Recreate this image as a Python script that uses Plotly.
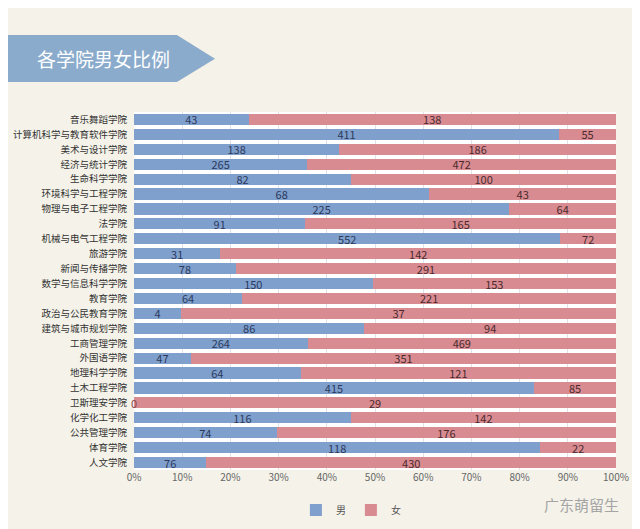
import plotly.graph_objects as go

# data, top to bottom as in the picture
colleges = [
    "音乐舞蹈学院", "计算机科学与教育软件学院", "美术与设计学院", "经济与统计学院",
    "生命科学学院", "环境科学与工程学院", "物理与电子工程学院", "法学院",
    "机械与电气工程学院", "旅游学院", "新闻与传播学院", "数学与信息科学学院",
    "教育学院", "政治与公民教育学院", "建筑与城市规划学院", "工商管理学院",
    "外国语学院", "地理科学学院", "土木工程学院", "卫斯理安学院",
    "化学化工学院", "公共管理学院", "体育学院", "人文学院",
]
male = [43, 411, 138, 265, 82, 68, 225, 91, 552, 31, 78, 150,
        64, 4, 86, 264, 47, 64, 415, 0, 116, 74, 118, 76]
female = [138, 55, 186, 472, 100, 43, 64, 165, 72, 142, 291, 153,
          221, 37, 94, 469, 351, 121, 85, 29, 142, 176, 22, 430]

BLUE = "#7f9fcd"
PINK = "#d98b92"
FONT = "Noto Sans CJK SC"

fig = go.Figure()
fig.add_trace(go.Bar(
    y=colleges, x=male, name="男", orientation="h",
    marker=dict(color=BLUE, line_width=0),
    text=[str(v) for v in male], textposition="inside", insidetextanchor="middle",
    textangle=0, constraintext="none",
    textfont=dict(color="#2b3a5c", size=11, family=FONT),
))
fig.add_trace(go.Bar(
    y=colleges, x=female, name="女", orientation="h",
    marker=dict(color=PINK, line_width=0),
    text=[str(v) for v in female], textposition="inside", insidetextanchor="middle",
    textangle=0, constraintext="none",
    textfont=dict(color="#4a2a2c", size=11, family=FONT),
))

# zero-width bars still get their label, at the left edge
for c, m in zip(colleges, male):
    if m == 0:
        fig.add_annotation(x=0, y=c, text="0", showarrow=False, xanchor="center",
                           font=dict(color="#8a4545", size=11, family=FONT))

# title banner (arrow shape); plot area spans x 134..616, y 112..470 px of the window
fig.add_shape(type="path", xref="paper", yref="paper",
              path="M -0.3 1.084 L 0.089 1.084 L 0.168 1.149 L 0.089 1.215 L -0.3 1.215 Z",
              fillcolor="#8aabcc", line_width=0, layer="below")
fig.add_annotation(xref="paper", yref="paper", x=-0.205, y=1.149,
                   xanchor="left", yanchor="middle",
                   text="各学院男女比例", showarrow=False,
                   font=dict(color="white", size=19, family=FONT))

fig.add_annotation(xref="paper", yref="paper", x=1.01, y=-0.095,
                   xanchor="right", yanchor="middle",
                   text="广东萌留生", showarrow=False,
                   font=dict(color="#a5a5a5", size=15, family=FONT))

# the page body adds 8px on the top and left, so margins are 8px smaller there
fig.update_layout(
    width=640, height=529,
    barmode="stack", barnorm="percent", bargap=0.25,
    paper_bgcolor="#f4f2e9", plot_bgcolor="white",
    margin=dict(l=126, r=32, t=104, b=67, autoexpand=False),
    font=dict(family=FONT, color="#333333"),
    showlegend=True,
    legend=dict(orientation="h", x=0.45, xanchor="center", y=-0.112, yanchor="middle",
                traceorder="normal", font=dict(size=10, color="#555555"),
                itemwidth=30, bgcolor="rgba(0,0,0,0)"),
    uniformtext=dict(minsize=8, mode="show"),
)
fig.update_xaxes(range=[0, 100], dtick=10, ticksuffix="%", showgrid=True,
                 gridcolor="#dde3ea", gridwidth=1, zeroline=False,
                 tickfont=dict(size=10, color="#666666"), showline=False,
                 automargin=False)
fig.update_yaxes(autorange="reversed", tickfont=dict(size=9.5, color="#333333"),
                 ticks="", ticklabelstandoff=6, automargin=False)

fig.write_html("out.html")
